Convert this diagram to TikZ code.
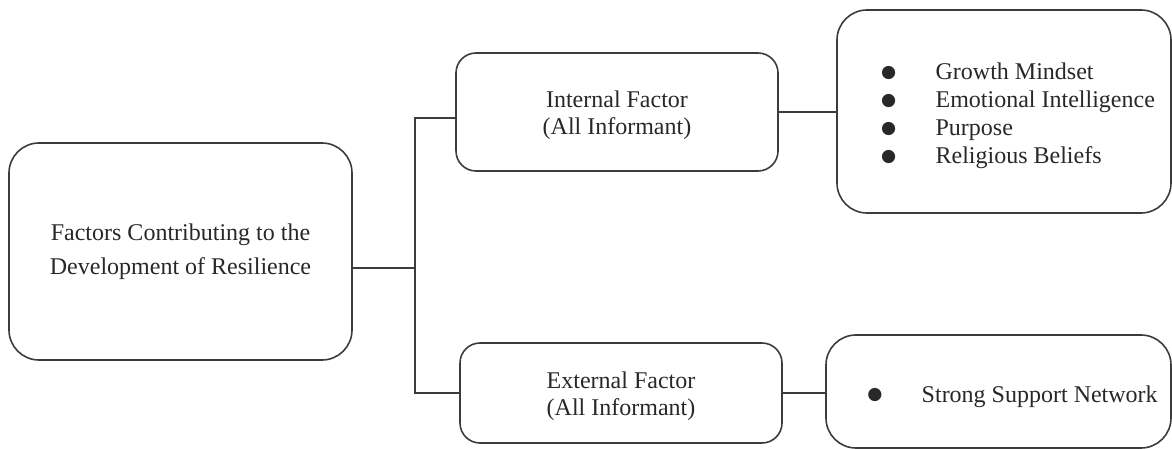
\documentclass[tikz,border=0pt]{standalone}
\usepackage{fontspec}
\setmainfont{Liberation Serif}
\newfontfamily\dotfont{DejaVu Sans}
\usetikzlibrary{positioning}
\definecolor{boxline}{RGB}{60,60,60}
\definecolor{boxtext}{RGB}{40,40,40}
\newcommand{\listdot}{\raisebox{2pt}{\dotfont\fontsize{13}{13}\selectfont ●}}
\newcommand{\headstrut}{\rule{0pt}{18pt}}
\newcommand{\liststrut}{\rule{0pt}{22pt}}

\begin{document}
\begin{tikzpicture}[
  x=0.75pt, y=-0.75pt,
  font=\fontsize{18}{20.25}\selectfont,
  box/.style={rectangle, rounded corners=15pt, draw=boxline, line width=1.2pt, text=boxtext, align=center},
  bigbox/.style={box, rounded corners=22.5pt},
  link/.style={draw=boxline, line width=1.2pt}
]
\useasboundingbox (0,0) rectangle (1172,449);

% Root
\node[bigbox, minimum width=257.25pt, minimum height=162.75pt, font=\fontsize{18}{25.5}\selectfont] (factors) at (180.5,251.5) {Factors Contributing to the\\Development of Resilience};

% Factor groups
\node[box, minimum width=241.5pt, minimum height=88.5pt] (internal) at (617,112) {\headstrut Internal Factor\\(All Informant)};
\node[box, minimum width=241.5pt, minimum height=75pt] (external) at (621,393) {\headstrut External Factor\\(All Informant)};

% Factor lists
\node[bigbox, minimum width=250.5pt, minimum height=152.25pt, font=\fontsize{18}{21}\selectfont] (traits) at (1004,111.5) {%
  \begin{tabular}{@{\hspace{21pt}}c@{\hspace{29.5pt}}l@{}}
    \liststrut\listdot & Growth Mindset\\
    \listdot & Emotional Intelligence\\
    \listdot & Purpose\\
    \listdot & Religious Beliefs
  \end{tabular}};
\node[bigbox, minimum width=258.75pt, minimum height=84.75pt] (support) at (998.5,391.5) {%
  \begin{tabular}{@{\hspace{21pt}}c@{\hspace{29.5pt}}l@{}}
    \liststrut\listdot & Strong Support Network
  \end{tabular}};

% Connectors
\coordinate (trunk) at (415,268);
\coordinate (branch) at (415,118);
\draw[link] (factors.east |- trunk) -- (trunk);
\draw[link] (internal.west |- branch) -- (branch) |- (external.west);
\draw[link] (internal.east) -- (internal.east -| traits.west);
\draw[link] (external.east) -- (external.east -| support.west);

\end{tikzpicture}
\end{document}
